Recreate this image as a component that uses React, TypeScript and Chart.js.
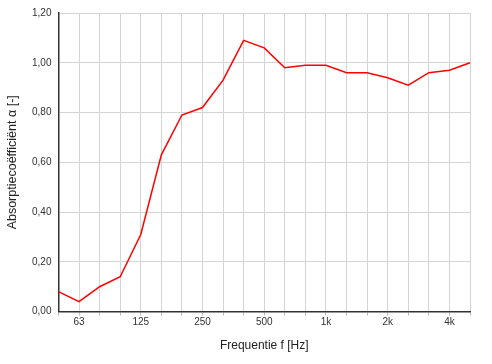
import React, { useEffect, useRef } from "react";
import { Chart, registerables } from "chart.js";

Chart.register(...registerables);

const categories = ["50", "63", "80", "100", "125", "160", "200", "250", "315", "400", "500", "630", "800", "1000", "1250", "1600", "2000", "2500", "3150", "4000", "5000"];
const tickLabels = ["", "63", "", "", "125", "", "", "250", "", "", "500", "", "", "1k", "", "", "2k", "", "", "4k", ""];
const absorption = [0.08, 0.04, 0.10, 0.14, 0.31, 0.63, 0.79, 0.82, 0.93, 1.09, 1.06, 0.98, 0.99, 0.99, 0.96, 0.96, 0.94, 0.91, 0.96, 0.97, 1.00];

const FONT = "'Liberation Sans', Arial, Helvetica, sans-serif";

export default function App() {
  const ref = useRef<HTMLCanvasElement | null>(null);
  useEffect(() => {
    document.body.style.margin = "0";
    const ctx = ref.current;
    if (!ctx) return;
    const chart = new Chart(ctx, {
      type: "line",
      data: {
        labels: categories,
        datasets: [
          {
            data: absorption,
            borderColor: "#ff0000",
            borderWidth: 1.5,
            pointRadius: 0,
            fill: false,
            tension: 0,
          },
        ],
      },
      options: {
        responsive: false,
        animation: false,
        layout: { padding: { top: 8, right: 22, left: 5, bottom: 11 } },
        plugins: { legend: { display: false }, tooltip: { enabled: false } },
        scales: {
          x: {
            type: "category",
            offset: false,
            grid: {
              color: "#d4d4d4",
              lineWidth: 1,
              drawTicks: true,
              tickLength: 4,
              tickColor: "#bbbbbb",
            },
            border: { color: "#333333", width: 1.5 },
            ticks: {
              autoSkip: false,
              maxRotation: 0,
              padding: 1,
              color: "#333333",
              font: { family: FONT, size: 10 },
              callback: (_v: any, i: number) => tickLabels[i],
            },
            title: {
              display: true,
              text: "Frequentie f [Hz]",
              color: "#222222",
              font: { family: FONT, size: 12 },
              padding: { top: 9, bottom: 0 },
            },
          },
          y: {
            min: 0,
            max: 1.2,
            grid: { color: "#d4d4d4", lineWidth: 1, drawTicks: false },
            border: { color: "#333333", width: 1.5 },
            ticks: {
              stepSize: 0.2,
              padding: 7,
              color: "#333333",
              font: { family: FONT, size: 10 },
              callback: (v: any) => Number(v).toFixed(2).replace(".", ","),
            },
            title: {
              display: true,
              text: "Absorptiecoëfficiënt α [-]",
              color: "#222222",
              font: { family: FONT, size: 12.5 },
              padding: { top: 0, bottom: 5 },
            },
          },
        },
      },
    });
    return () => chart.destroy();
  }, []);
  return <canvas ref={ref} width={492} height={364} style={{ display: "block" }} />;
}
